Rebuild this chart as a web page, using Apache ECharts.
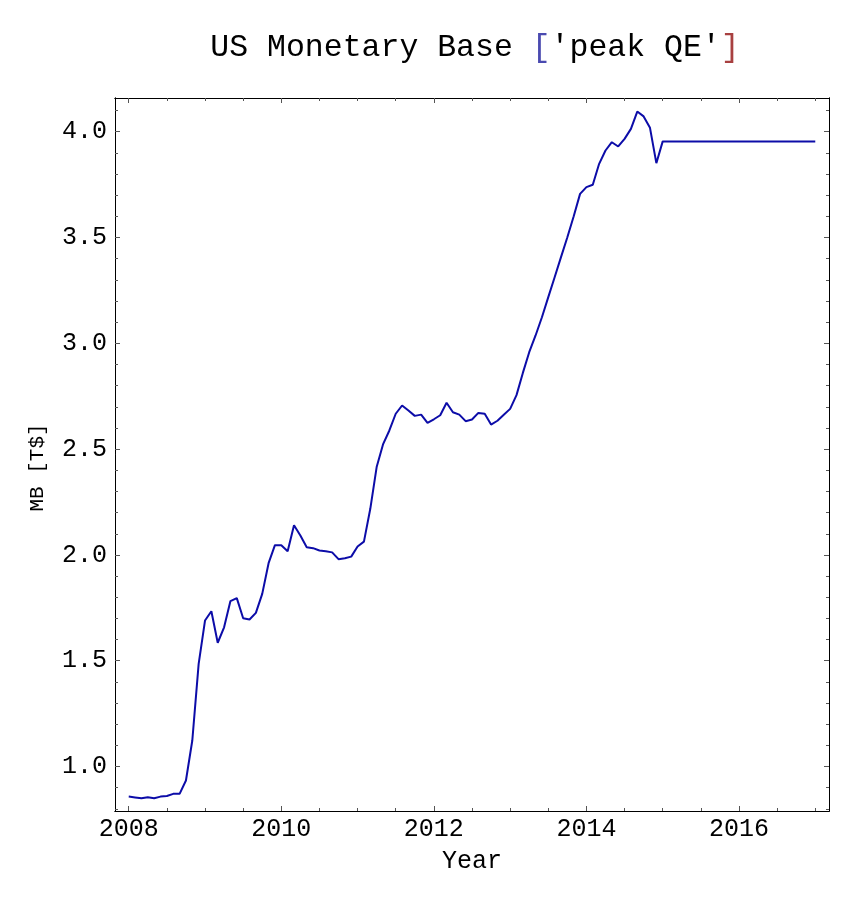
<!DOCTYPE html>
<html>
<head>
<meta charset="utf-8">
<script src="https://cdn.jsdelivr.net/npm/echarts@6/dist/echarts.min.js"></script>
<style>
html,body{margin:0;padding:0;background:#fff;}
#chart{width:864px;height:900px;}
</style>
</head>
<body>
<div id="chart"></div>
<script>
// Monthly US monetary base, trillions of dollars, starting January 2008
var startYear = 2008;
var mbMonthly = [
  0.858, 0.854, 0.850, 0.855, 0.850, 0.858, 0.861, 0.871, 0.871, 0.934, 1.123, 1.485,
  1.690, 1.734, 1.585, 1.658, 1.782, 1.796, 1.701, 1.695, 1.726, 1.816, 1.961, 2.046,
  2.046, 2.017, 2.140, 2.092, 2.036, 2.032, 2.021, 2.017, 2.012, 1.980, 1.984, 1.992,
  2.040, 2.063, 2.218, 2.415, 2.522, 2.588, 2.667, 2.706, 2.682, 2.657, 2.663, 2.624,
  2.641, 2.660, 2.719, 2.674, 2.663, 2.632, 2.640, 2.671, 2.667, 2.616, 2.634, 2.662,
  2.690, 2.755, 2.860, 2.958, 3.037, 3.123, 3.218, 3.312, 3.407, 3.501, 3.600, 3.706,
  3.738, 3.749, 3.848, 3.911, 3.950, 3.930, 3.966, 4.013, 4.095, 4.072, 4.018, 3.851,
  3.954
];
// 'peak QE' plateau held constant to the end of the horizon
var plateauValue = 3.954;
var plateauEndYear = 2017;

var xMajorTicks = [2008, 2010, 2012, 2014, 2016];
var xMinorTicks = [2008, 2008.5, 2009, 2009.5, 2010, 2010.5, 2011, 2011.5, 2012, 2012.5,
  2013, 2013.5, 2014, 2014.5, 2015, 2015.5, 2016, 2016.5, 2017];
var yMajorTicks = [1.0, 1.5, 2.0, 2.5, 3.0, 3.5, 4.0];
var yMinorTicks = [0.8, 0.9, 1.0, 1.1, 1.2, 1.3, 1.4, 1.5, 1.6, 1.7, 1.8, 1.9, 2.0, 2.1, 2.2,
  2.3, 2.4, 2.5, 2.6, 2.7, 2.8, 2.9, 3.0, 3.1, 3.2, 3.3, 3.4, 3.5, 3.6, 3.7, 3.8, 3.9, 4.0, 4.1];

var titleMain = 'US Monetary Base ';
var titleInner = "'peak QE'";
var xName = 'Year';
var yName = 'MB [T$]';

var lineData = mbMonthly.map(function (v, i) { return [startYear + i / 12, v]; });
lineData.push([plateauEndYear, plateauValue]);

var FONT = 'Liberation Mono';
var xMin = 2007.82, xMax = 2017.18, yMin = 0.79, yMax = 4.159;

function xAxisDef(pos, ticks, len, showLabel, extra) {
  var a = {
    type: 'value', position: pos, min: xMin, max: xMax,
    axisLine: { show: true, onZero: false, lineStyle: { color: '#000', width: 1 } },
    axisTick: { show: true, inside: true, length: len, customValues: ticks,
      lineStyle: { color: '#555', width: 1 } },
    axisLabel: { show: showLabel, customValues: ticks, color: '#000',
      fontFamily: FONT, fontSize: 25, margin: 6,
      formatter: function (v) { return String(Math.round(v)); } },
    splitLine: { show: false }
  };
  return Object.assign(a, extra || {});
}
function yAxisDef(pos, ticks, len, showLabel, extra) {
  var a = {
    type: 'value', position: pos, min: yMin, max: yMax,
    axisLine: { show: true, onZero: false, lineStyle: { color: '#000', width: 1 } },
    axisTick: { show: true, inside: true, length: len, customValues: ticks,
      lineStyle: { color: '#555', width: 1 } },
    axisLabel: { show: showLabel, customValues: ticks, color: '#000',
      fontFamily: FONT, fontSize: 25, margin: 8,
      formatter: function (v) { return v.toFixed(1); } },
    splitLine: { show: false }
  };
  return Object.assign(a, extra || {});
}

var chart = echarts.init(document.getElementById('chart'), null, { renderer: 'canvas' });
chart.setOption({
  backgroundColor: '#fff',
  animation: false,
  title: {
    text: '{m|' + titleMain + '}{l|[}{m|' + titleInner + '}{r|]}',
    left: 470, textAlign: 'center', top: 27,
    textStyle: {
      fontWeight: 'normal',
      rich: {
        m: { fontFamily: FONT, fontSize: 31.5, color: '#000', fontWeight: 'normal' },
        l: { fontFamily: FONT, fontSize: 31.5, color: '#4a4ab0', fontWeight: 'normal' },
        r: { fontFamily: FONT, fontSize: 31.5, color: '#a84040', fontWeight: 'normal' }
      }
    }
  },
  grid: { left: 115, right: 35, top: 98, bottom: 89, containLabel: false },
  xAxis: [
    xAxisDef('bottom', xMajorTicks, 5, true, {
      name: xName, nameLocation: 'middle', nameGap: 38,
      nameTextStyle: { fontFamily: FONT, fontSize: 25, color: '#000' }
    }),
    xAxisDef('bottom', xMinorTicks, 3, false),
    xAxisDef('top', xMajorTicks, 5, false),
    xAxisDef('top', xMinorTicks, 3, false)
  ],
  yAxis: [
    yAxisDef('left', yMajorTicks, 5, true, {
      name: yName, nameLocation: 'middle', nameGap: 67, nameRotate: 90,
      nameTextStyle: { fontFamily: FONT, fontSize: 21, color: '#000', padding: [0, 26, 0, 0] }
    }),
    yAxisDef('left', yMinorTicks, 3, false),
    yAxisDef('right', yMajorTicks, 5, false),
    yAxisDef('right', yMinorTicks, 3, false)
  ],
  series: [{
    type: 'line',
    xAxisIndex: 0, yAxisIndex: 0,
    data: lineData,
    showSymbol: false,
    smooth: false,
    lineStyle: { color: '#0c0ca8', width: 2 },
    itemStyle: { color: '#0c0ca8' }
  }]
});
</script>
</body>
</html>
